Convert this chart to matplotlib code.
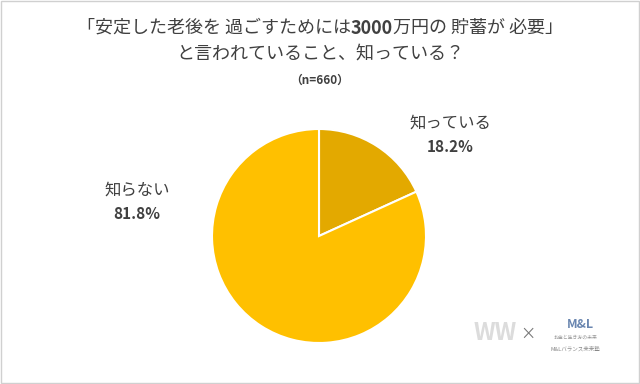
import matplotlib.pyplot as plt
from matplotlib.patches import Rectangle

plt.rcParams['font.family'] = ['Noto Sans CJK JP', 'DejaVu Sans']

labels = ["知っている", "知らない"]
shares = [18.2, 81.8]
colors = ["#E3A900", "#FFC000"]

title1_parts = ["「安定した老後を 過ごすためには", "3000", "万円の 貯蓄が 必要」"]
title1_bold = [False, True, False]
title2 = "と言われていること、知っている？"
subtitle = "（n=660）"

W, H = 640, 384
fig = plt.figure(figsize=(6.4, 3.84), dpi=100)
fig.patch.set_facecolor("white")

# pie: center ~(319, 236), radius ~107 px
r = 107
ax = fig.add_axes([(319 - r) / W, 1 - (236 + r) / H, 2 * r / W, 2 * r / H])
ax.pie(shares, colors=colors, startangle=90, counterclock=False,
       wedgeprops=dict(edgecolor="white", linewidth=1.5))
ax.set_aspect("equal")
ax.set_xlim(-1, 1)
ax.set_ylim(-1, 1)
ax.axis("off")

def fx(x):
    return x / W

def fy(y):
    return 1 - y / H

txt = "#404040"
tsize = 13

# first title line, with the bold "3000" in the middle
renderer = fig.canvas.get_renderer()
pieces = []
for s, b in zip(title1_parts, title1_bold):
    t = fig.text(0, fy(28), s, ha="left", va="center", fontsize=tsize, color=txt,
                 fontweight="bold" if b else "normal")
    pieces.append(t)
widths = [t.get_window_extent(renderer).width for t in pieces]
x = 320 - sum(widths) / 2
for t, w in zip(pieces, widths):
    t.set_x(fx(x))
    x += w

fig.text(fx(320), fy(54), title2, ha="center", va="center", fontsize=tsize, color=txt)
fig.text(fx(320), fy(80), subtitle, ha="center", va="center", fontsize=8.5,
         color=txt, fontweight="bold")

# slice labels
pos = [(450, 123), (137, 190)]
for (x, y), lab, v in zip(pos, labels, shares):
    fig.text(fx(x), fy(y), lab, ha="center", va="center", fontsize=11.8, color=txt)
    fig.text(fx(x), fy(y + 24), f"{v}%", ha="center", va="center", fontsize=11,
             color=txt, fontweight="bold")

# faint logos at bottom right
fig.text(fx(495), fy(333), "WW", ha="center", va="center", fontsize=17,
         color="#dcdcdc", fontweight="bold")
fig.text(fx(528), fy(334), "×", ha="center", va="center", fontsize=11, color="#777777")
fig.text(fx(580), fy(325), "M&L", ha="center", va="center", fontsize=9,
         color="#6a86b0", fontweight="bold")
fig.text(fx(575), fy(337), "お金と生き方の未来", ha="center", va="center", fontsize=3.5,
         color="#999999")
fig.text(fx(575), fy(349), "M&Lバランス未来塾", ha="center", va="center", fontsize=4,
         color="#888888")

# thin frame
fig.patches.append(Rectangle((0.001, 0.002), 0.997, 0.995, transform=fig.transFigure,
                             fill=False, edgecolor="#d0d0d0", linewidth=1))

fig.savefig("out.png", dpi=100, facecolor="white")
